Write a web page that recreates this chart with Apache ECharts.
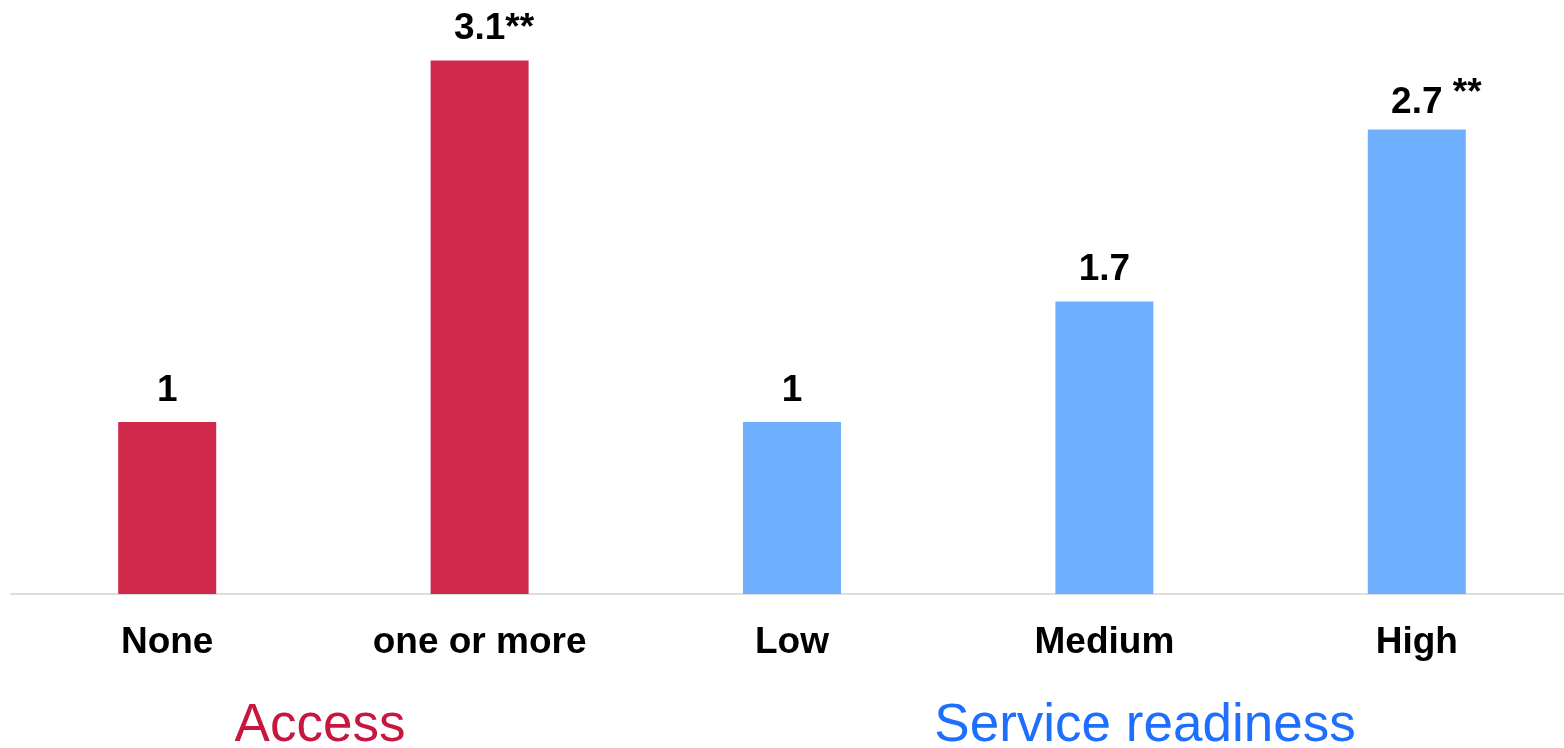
<!DOCTYPE html>
<html>
<head>
<meta charset="utf-8">
<script src="https://cdn.jsdelivr.net/npm/echarts@6/dist/echarts.min.js"></script>
<style>
  html, body { margin: 0; padding: 0; background: #ffffff; }
  #chart { width: 1564px; height: 748px; }
</style>
</head>
<body>
<div id="chart"></div>
<script>
// Categories and odds ratios
const categories = ['None', 'one or more', 'Low', 'Medium', 'High'];
const values = [1, 3.1, 1, 1.7, 2.7];
// significance marks: inline after the value, or raised as a superscript
const inlineMarks = ['', '**', '', '', ''];
const raisedMarks = ['', '', '', '', '**'];
const groupOf = ['Access', 'Access', 'Service readiness', 'Service readiness', 'Service readiness'];
const groups = ['Access', 'Service readiness'];

const barColors = { 'Access': '#d0294b', 'Service readiness': '#6eb0fe' };
const groupTextColors = { 'Access': '#c8173f', 'Service readiness': '#1f6fff' };
const FONT = '"Liberation Sans", Arial, Helvetica, sans-serif';

const chart = echarts.init(document.getElementById('chart'), null, { renderer: 'canvas' });

const seriesData = values.map((v, i) => ({
  value: v,
  itemStyle: { color: barColors[groupOf[i]] },
  mark: inlineMarks[i],
  raised: raisedMarks[i]
}));

const labelText = { fontFamily: FONT, fontSize: 37, fontWeight: 'bold', color: '#000000', lineHeight: 37 };

chart.setOption({
  animation: false,
  backgroundColor: '#ffffff',
  // the last category band runs a little past the right edge of the canvas
  grid: { left: 11, top: 9, width: 1562, height: 585, outerBoundsMode: 'none', containLabel: false },
  xAxis: {
    type: 'category',
    data: categories,
    axisLine: { show: true, lineStyle: { color: '#dddddd', width: 2 } },
    axisTick: { show: false },
    axisLabel: {
      color: '#000000',
      fontFamily: FONT,
      fontWeight: 'bold',
      fontSize: 37,
      margin: 30
    }
  },
  yAxis: {
    type: 'value',
    min: 0,
    max: 3.4,
    show: false,
    splitLine: { show: false }
  },
  series: [{
    type: 'bar',
    barWidth: 98,
    data: seriesData,
    label: {
      show: true,
      position: 'top',
      distance: 13,
      fontFamily: FONT,
      // the number stays centred over its bar; an invisible copy of the
      // trailing mark on the left balances the mark on the right
      formatter: function (p) {
        const d = seriesData[p.dataIndex];
        if (d.raised) {
          return '{ghost| ' + d.raised + '}{vr|' + p.value + '}{up| ' + d.raised + '}';
        }
        if (d.mark) {
          return '{ghost|' + d.mark + '}{v|' + p.value + d.mark + '}';
        }
        return '{v|' + p.value + '}';
      },
      rich: {
        v: labelText,
        ghost: Object.assign({}, labelText, { color: 'rgba(0,0,0,0)' }),
        // value beside a raised mark: top padding keeps it on the common baseline
        vr: Object.assign({}, labelText, { padding: [9, 0, 0, 0] }),
        up: Object.assign({}, labelText, { padding: [0, 0, 9, 0] })
      }
    }
  }],
  graphic: [
    {
      type: 'text',
      x: 320, y: 726,
      style: {
        text: groups[0],
        fill: groupTextColors[groups[0]],
        font: '53px ' + FONT,
        textAlign: 'center',
        textVerticalAlign: 'middle'
      }
    },
    {
      type: 'text',
      x: 1145, y: 726,
      style: {
        text: groups[1],
        fill: groupTextColors[groups[1]],
        font: '53px ' + FONT,
        textAlign: 'center',
        textVerticalAlign: 'middle'
      }
    }
  ]
});
</script>
</body>
</html>
